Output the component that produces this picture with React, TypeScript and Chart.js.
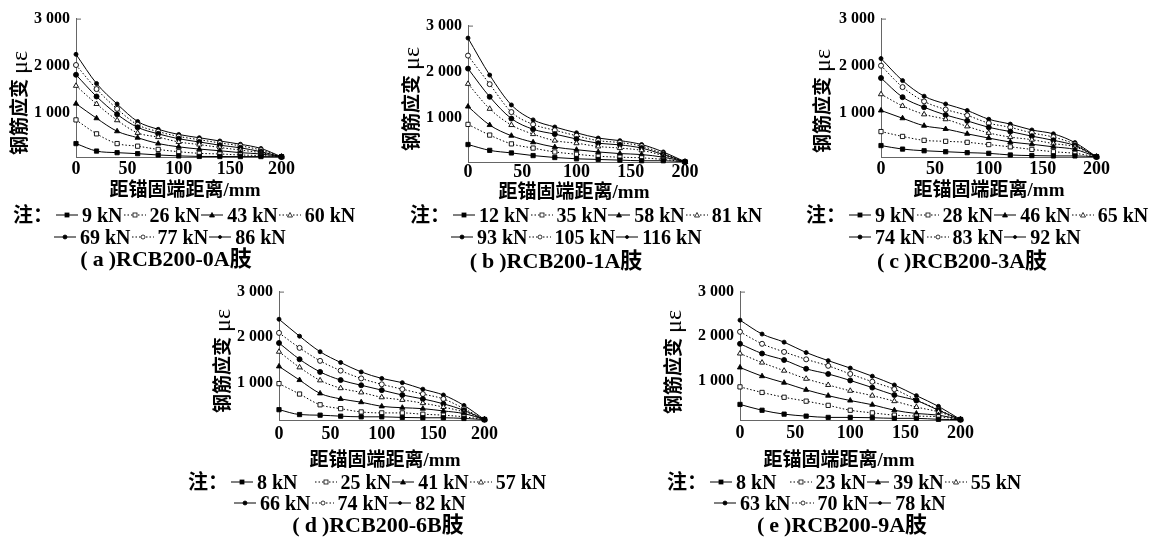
import React, { useEffect, useRef } from "react";
import { Chart, registerables } from "chart.js";
Chart.register(...registerables);

// ---------- data ----------
const xDistance = [0, 20, 40, 60, 80, 100, 120, 140, 160, 180, 200];
const xTickValues = [0, 50, 100, 150, 200];
const yTickValues = [1000, 2000, 3000];
const yAxisTitle = "钢筋应变";
const yAxisUnit = "με";
const xAxisTitle = "距锚固端距离/mm";
const notePrefix = "注：";

const loadsA = [9, 26, 43, 60, 69, 77, 86];
const strainA = [
  [345, 186, 152, 131, 103, 83, 72, 70, 69, 69, 65],
  [848, 552, 345, 290, 221, 172, 138, 124, 103, 90, 65],
  [1193, 883, 607, 469, 345, 276, 228, 193, 152, 124, 65],
  [1572, 1186, 841, 572, 483, 379, 324, 262, 207, 152, 65],
  [1807, 1345, 966, 690, 552, 448, 379, 310, 255, 172, 65],
  [2014, 1503, 1083, 745, 600, 497, 428, 359, 297, 207, 65],
  [2241, 1621, 1186, 814, 648, 538, 469, 400, 331, 241, 65],
];
const captionA = ["a", "RCB200-0A肢"];

const loadsB = [12, 35, 58, 81, 93, 105, 116];
const strainB = [
  [428, 302, 246, 189, 147, 119, 105, 91, 77, 77, 55],
  [863, 632, 442, 351, 267, 218, 175, 154, 140, 105, 55],
  [1249, 849, 618, 477, 372, 316, 267, 232, 211, 154, 55],
  [1740, 1200, 849, 653, 512, 456, 386, 351, 302, 189, 55],
  [2070, 1460, 989, 758, 653, 547, 456, 421, 351, 211, 55],
  [2351, 1733, 1130, 863, 737, 618, 512, 470, 393, 232, 55],
  [2730, 1930, 1284, 961, 807, 681, 568, 512, 428, 267, 55],
];
const captionB = ["b", "RCB200-1A肢"];

const loadsC = [9, 28, 46, 65, 74, 83, 92];
const strainC = [
  [303, 228, 193, 172, 152, 138, 103, 90, 83, 83, 65],
  [600, 497, 414, 393, 372, 324, 276, 221, 172, 138, 65],
  [1048, 883, 724, 655, 552, 462, 379, 331, 276, 221, 65],
  [1393, 1145, 966, 862, 710, 572, 483, 428, 345, 276, 65],
  [1738, 1331, 1117, 952, 828, 690, 600, 503, 414, 303, 65],
  [2000, 1545, 1241, 1069, 945, 779, 690, 572, 483, 331, 65],
  [2152, 1683, 1352, 1186, 1048, 862, 759, 634, 552, 366, 65],
];
const captionC = ["c", "RCB200-3A肢"];

const loadsD = [8, 25, 41, 57, 66, 74, 82];
const strainD = [
  [407, 300, 286, 264, 250, 250, 236, 229, 229, 214, 190],
  [979, 750, 514, 429, 357, 336, 336, 307, 286, 250, 190],
  [1357, 1057, 764, 643, 571, 479, 450, 429, 379, 321, 190],
  [1679, 1336, 1050, 879, 786, 679, 621, 550, 464, 357, 190],
  [1871, 1514, 1236, 1057, 943, 836, 729, 643, 536, 393, 190],
  [2093, 1764, 1479, 1264, 1093, 964, 857, 750, 643, 429, 190],
  [2393, 2021, 1679, 1443, 1236, 1093, 1000, 857, 729, 500, 190],
];
const captionD = ["d", "RCB200-6B肢"];

const loadsE = [8, 23, 39, 55, 63, 70, 78];
const strainE = [
  [478, 348, 261, 217, 188, 188, 181, 167, 167, 145, 140],
  [870, 746, 638, 551, 457, 348, 290, 239, 217, 203, 140],
  [1304, 1109, 964, 804, 674, 565, 471, 348, 275, 239, 140],
  [1616, 1413, 1232, 1051, 913, 783, 674, 551, 420, 312, 140],
  [1833, 1616, 1471, 1275, 1159, 1014, 855, 688, 565, 348, 140],
  [2101, 1833, 1652, 1486, 1341, 1159, 986, 819, 580, 362, 140],
  [2362, 2051, 1870, 1638, 1457, 1290, 1109, 913, 674, 435, 140],
];
const captionE = ["e", "RCB200-9A肢"];

// ---------- styles ----------
const DOT = [1.5, 2];
const seriesStyles = [
  { dash: [] as number[], point: "rect", fill: true, r: 3 },
  { dash: DOT, point: "rect", fill: false, r: 3 },
  { dash: [] as number[], point: "triangle", fill: true, r: 3 },
  { dash: DOT, point: "triangle", fill: false, r: 3 },
  { dash: [] as number[], point: "circle", fill: true, r: 2.5 },
  { dash: DOT, point: "circle", fill: false, r: 2.5 },
  { dash: [] as number[], point: "circle", fill: true, r: 2 },
];

const SERIF = '"Liberation Serif", "Noto Sans CJK SC", serif';

type PanelCfg = {
  loads: number[];
  strain: number[][];
  caption: string[];
  yMin: number;
  plot: { l: number; t: number; r: number; b: number };
  xTickPad: number;
  yTitle: { x: number; y: number };
  xTitle: { x: number; y: number };
  row1: { x: number; y: number };
  row2: { x: number; y: number };
  cap: { x: number; y: number };
  firstGap: number;
};

const panels: PanelCfg[] = [
  {
    loads: loadsA, strain: strainA, caption: captionA, yMin: 60,
    plot: { l: 76, t: 15, r: 283, b: 157 }, xTickPad: 2,
    yTitle: { x: 19, y: 103 }, xTitle: { x: 185, y: 189 },
    row1: { x: 13, y: 215 }, row2: { x: 53, y: 237 }, cap: { x: 166, y: 259 }, firstGap: 0,
  },
  {
    loads: loadsB, strain: strainB, caption: captionB, yMin: 50,
    plot: { l: 468, t: 22, r: 685, b: 162 }, xTickPad: 0,
    yTitle: { x: 411, y: 99 }, xTitle: { x: 574, y: 191 },
    row1: { x: 410, y: 215 }, row2: { x: 450, y: 237 }, cap: { x: 556, y: 261 }, firstGap: 0,
  },
  {
    loads: loadsC, strain: strainC, caption: captionC, yMin: 60,
    plot: { l: 881, t: 15, r: 1098, b: 157 }, xTickPad: 2,
    yTitle: { x: 822, y: 101 }, xTitle: { x: 989, y: 189 },
    row1: { x: 806, y: 215 }, row2: { x: 848, y: 237 }, cap: { x: 962, y: 261 }, firstGap: 0,
  },
  {
    loads: loadsD, strain: strainD, caption: captionD, yMin: 180,
    plot: { l: 279, t: 288, r: 488, b: 420 }, xTickPad: 4,
    yTitle: { x: 222, y: 361 }, xTitle: { x: 385, y: 459 },
    row1: { x: 188, y: 482 }, row2: { x: 233, y: 503 }, cap: { x: 378, y: 525 }, firstGap: 16,
  },
  {
    loads: loadsE, strain: strainE, caption: captionE, yMin: 130,
    plot: { l: 740, t: 288, r: 963, b: 420 }, xTickPad: 3,
    yTitle: { x: 673, y: 362 }, xTitle: { x: 839, y: 459 },
    row1: { x: 667, y: 482 }, row2: { x: 713, y: 503 }, cap: { x: 842, y: 525 }, firstGap: 12,
  },
];

const fmtThousands = (v: number) => String(v).replace(/\B(?=(\d{3})+(?!\d))/g, " ");

const topTickPlugin = {
  id: "topTick",
  afterDraw(chart: any) {
    const { ctx, chartArea } = chart;
    ctx.save();
    ctx.strokeStyle = "#666";
    ctx.lineWidth = 1;
    ctx.beginPath();
    ctx.moveTo(chartArea.left, chartArea.top + 0.5);
    ctx.lineTo(chartArea.left + 5, chartArea.top + 0.5);
    ctx.stroke();
    ctx.restore();
  },
};

function Sample({ idx }: { idx: number }) {
  const s = seriesStyles[idx];
  const cx = 12, cy = 6;
  let marker: React.ReactNode = null;
  const fill = s.fill ? "#000" : "#fff";
  if (s.point === "rect") marker = <rect x={cx - 2} y={cy - 2} width={4} height={4} fill={fill} stroke="#000" strokeWidth={0.8} />;
  else if (s.point === "triangle") marker = <polygon points={`${cx},${cy - 2.5} ${cx - 2.5},${cy + 2} ${cx + 2.5},${cy + 2}`} fill={fill} stroke="#000" strokeWidth={0.8} />;
  else marker = <circle cx={cx} cy={cy} r={s.r - 0.5} fill={fill} stroke="#000" strokeWidth={0.8} />;
  return (
    <svg width={24} height={12} style={{ marginRight: 3, flex: "none" }}>
      <line x1={1} y1={cy} x2={23} y2={cy} stroke="#000" strokeWidth={1} strokeDasharray={s.dash.length ? "1.5 2" : undefined} />
      {marker}
    </svg>
  );
}

function Panel({ p }: { p: PanelCfg }) {
  const ref = useRef<HTMLCanvasElement>(null);
  const YW = 60, PT = 12, PR = 14, XH = 28;
  const w = YW + (p.plot.r - p.plot.l) + PR;
  const h = PT + (p.plot.b - p.plot.t) + XH;

  useEffect(() => {
    if (!ref.current) return;
    const datasets = p.strain.map((vals, i) => {
      const s = seriesStyles[i];
      return {
        label: `${p.loads[i]} kN`,
        data: xDistance.map((x, j) => ({ x, y: vals[j] })),
        borderColor: "#000",
        borderWidth: 1,
        borderDash: s.dash,
        pointStyle: s.point as any,
        pointRadius: s.r,
        pointBackgroundColor: s.fill ? "#000" : "#fff",
        pointBorderColor: "#000",
        pointBorderWidth: 0.9,
        cubicInterpolationMode: "monotone" as const,
        clip: false as any,
        fill: false,
      };
    });
    const chart = new Chart(ref.current, {
      type: "line",
      data: { datasets },
      options: {
        animation: false,
        responsive: false,
        layout: { padding: { top: PT, right: PR, left: 0, bottom: 0 } },
        plugins: { legend: { display: false }, tooltip: { enabled: false } },
        scales: {
          x: {
            type: "linear",
            min: 0,
            max: 200,
            bounds: "data",
            afterBuildTicks: (scale: any) => {
              scale.ticks = xTickValues.map((v) => ({ value: v }));
            },
            afterFit: (scale: any) => {
              scale.height = XH;
            },
            grid: { display: false, drawTicks: false },
            border: { display: true, color: "#666", width: 1 },
            ticks: {
              padding: p.xTickPad,
              color: "#000",
              maxRotation: 0,
              autoSkip: false,
              font: { family: "Liberation Serif", size: 18, weight: "bold" },
            },
          },
          y: {
            type: "linear",
            min: p.yMin,
            max: 3000,
            bounds: "data",
            afterBuildTicks: (scale: any) => {
              scale.ticks = yTickValues.map((v) => ({ value: v }));
            },
            afterFit: (scale: any) => {
              scale.width = YW;
            },
            grid: { display: false, drawTicks: false },
            border: { display: true, color: "#666", width: 1 },
            ticks: {
              padding: 6,
              color: "#000",
              autoSkip: false,
              callback: (v: any) => fmtThousands(Number(v)),
              font: { family: "Liberation Serif", size: 16, weight: "bold" },
            },
          },
        },
      },
      plugins: [topTickPlugin],
    } as any);
    return () => chart.destroy();
  }, []);

  const textBase: React.CSSProperties = {
    position: "absolute",
    fontFamily: SERIF,
    fontWeight: "bold",
    color: "#000",
    whiteSpace: "nowrap",
    lineHeight: 1,
  };

  const item = (i: number) => (
    <span key={i} style={{ display: "flex", alignItems: "center" }}>
      <Sample idx={i} />
      <span style={{ marginRight: i === 0 ? p.firstGap : 0 }}>{`${p.loads[i]} kN`}</span>
    </span>
  );

  return (
    <>
      <canvas
        ref={ref}
        width={w}
        height={h}
        style={{ position: "absolute", left: p.plot.l - YW, top: p.plot.t - PT, width: w, height: h }}
      />
      <div style={{ ...textBase, left: p.yTitle.x, top: p.yTitle.y, fontSize: 19, transform: "translate(-50%, -50%) rotate(-90deg)", display: "flex", alignItems: "center" }}>
        <span>{yAxisTitle}</span>
        <span style={{ fontSize: 24, fontWeight: "normal", marginLeft: 5 }}>{yAxisUnit}</span>
      </div>
      <div style={{ ...textBase, left: p.xTitle.x, top: p.xTitle.y, fontSize: 19, transform: "translate(-50%, -50%)" }}>
        {xAxisTitle}
      </div>
      <div style={{ ...textBase, left: p.row1.x, top: p.row1.y, fontSize: 20, display: "flex", alignItems: "center", transform: "translateY(-50%)" }}>
        <span style={{ marginRight: 2 }}>{notePrefix}</span>
        {[0, 1, 2, 3].map(item)}
      </div>
      <div style={{ ...textBase, left: p.row2.x, top: p.row2.y, fontSize: 20, display: "flex", alignItems: "center", transform: "translateY(-50%)" }}>
        {[4, 5, 6].map(item)}
      </div>
      <div style={{ ...textBase, left: p.cap.x, top: p.cap.y, fontSize: 22, transform: "translate(-50%, -50%)" }}>
        <span>(</span>
        <span style={{ margin: "0 5px" }}>{p.caption[0]}</span>
        <span>)</span>
        {p.caption[1]}
      </div>
    </>
  );
}

export default function App() {
  return (
    <div style={{ position: "absolute", left: 0, top: 0, width: 1174, height: 540, background: "#fff", overflow: "hidden" }}>
      {panels.map((p, i) => (
        <Panel key={i} p={p} />
      ))}
    </div>
  );
}
